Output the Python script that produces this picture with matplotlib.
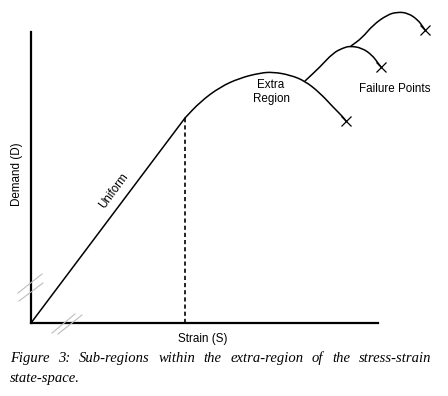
import matplotlib
matplotlib.use("Agg")
import matplotlib.pyplot as plt
from matplotlib.path import Path
from matplotlib.patches import PathPatch

# ---- data (chart units: strain S, demand D) ----
uniform_s = [0, 154]
uniform_d = [0, 205]

extra_s = [154, 169, 189, 209, 229, 242, 259, 274, 289, 302, 312, 315]
extra_d = [205, 221, 236, 245, 250, 251, 248, 242, 230, 216, 206, 202]

branch1_s = [274, 289, 302, 312, 319, 331, 341, 347, 350]
branch1_d = [242, 256, 270, 275, 277, 275, 268, 260, 256]

branch2_s = [320, 331, 342, 356, 366, 377, 387, 392, 394]
branch2_d = [277, 285, 298, 308, 311, 310, 303, 296, 293]

failure_s = [315, 350, 394]
failure_d = [202, 256, 293]

xlabel = "Strain (S)"
ylabel = "Demand (D)"
caption1 = "Figure 3: Sub-regions within the extra-region of the stress-strain"
caption2 = "state-space."

W, H = 448, 396
fig = plt.figure(figsize=(W / 100, H / 100), dpi=100)
fig.patch.set_facecolor("white")

ax = fig.add_axes([31 / W, (H - 323) / H, (378 - 31) / W, (323 - 32) / H])
ax.set_xlim(0, 347)
ax.set_ylim(0, 291)
for side in ("top", "right"):
    ax.spines[side].set_visible(False)
for side in ("left", "bottom"):
    ax.spines[side].set_linewidth(1.6)
    ax.spines[side].set_color("black")
ax.set_xticks([])
ax.set_yticks([])
ax.patch.set_alpha(0)

lw = 1.1


def smooth_curve(xs, ys):
    """Quadratic Bezier rendering through midpoints of the read points."""
    pts = list(zip(xs, ys))
    verts = [pts[0]]
    codes = [Path.MOVETO]
    mid = lambda a, b: ((a[0] + b[0]) / 2, (a[1] + b[1]) / 2)
    verts.append(mid(pts[0], pts[1]))
    codes.append(Path.LINETO)
    for i in range(1, len(pts) - 1):
        verts += [pts[i], mid(pts[i], pts[i + 1])]
        codes += [Path.CURVE3, Path.CURVE3]
    verts.append(pts[-1])
    codes.append(Path.LINETO)
    patch = PathPatch(Path(verts, codes), facecolor="none", edgecolor="black",
                      lw=lw, clip_on=False, joinstyle="round", capstyle="round")
    ax.add_patch(patch)


ax.plot(uniform_s, uniform_d, color="black", lw=lw, clip_on=False, solid_capstyle="round")
smooth_curve(extra_s, extra_d)
smooth_curve(branch1_s, branch1_d)
smooth_curve(branch2_s, branch2_d)
ax.plot([uniform_s[1], uniform_s[1]], [0, uniform_d[1]], color="black", lw=1.2,
        dashes=(2.5, 1.8), clip_on=False)
ax.plot(failure_s, failure_d, linestyle="none", marker="x", markersize=6.5,
        markeredgewidth=0.9, color="black", clip_on=False)

font = "Liberation Sans"
fs = 8.4
ax.text(240, 238, "Extra", ha="center", va="center", fontsize=fs, family=font)
ax.text(241, 224, "Region", ha="center", va="center", fontsize=fs, family=font)
ax.text(364, 234, "Failure Points", ha="center", va="center", fontsize=fs, family=font)
ax.text(83, 132, "Uniform", ha="center", va="center", fontsize=fs, family=font,
        rotation=53.4, rotation_mode="anchor")

fig.text(17 / W, 1 - 174 / H, ylabel, rotation=90, ha="center", va="center",
         fontsize=fs, family=font)
fig.text(203 / W, 1 - 339 / H, xlabel, ha="center", va="center",
         fontsize=fs, family=font)

# hatch marks (gray)
hatch = [((18, 293), (42, 274)), ((19, 301), (43, 283)),
         ((52, 333), (75, 314)), ((58, 334), (82, 315))]
for (x0, y0), (x1, y1) in hatch:
    fig.add_artist(plt.Line2D([x0 / W, x1 / W], [1 - y0 / H, 1 - y1 / H],
                              transform=fig.transFigure, color="#bdbdbd", lw=0.8))

# caption, justified
cfs = 10.5
cfont = "Liberation Serif"
renderer = fig.canvas.get_renderer()
words = caption1.split()
texts = [fig.text(0, 1 - 362 / H, w, fontsize=cfs, family=cfont, style="italic",
                  va="baseline", ha="left") for w in words]
widths = [t.get_window_extent(renderer).width for t in texts]
x_left, x_right = 10, 431
gap = (x_right - x_left - sum(widths)) / (len(words) - 1)
x = x_left
for t, w in zip(texts, widths):
    t.set_x(x / W)
    x += w + gap
fig.text(10 / W, 1 - 382 / H, caption2, fontsize=cfs, family=cfont, style="italic",
         va="baseline", ha="left")

fig.savefig("out.png", dpi=100)
